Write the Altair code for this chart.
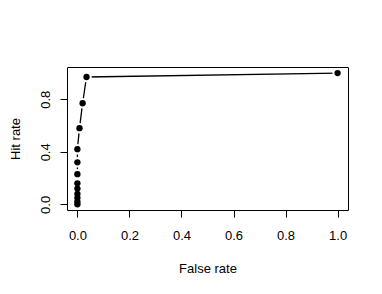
import altair as alt
import pandas as pd

false_rate = [0, 0, 0, 0, 0, 0, 0, 0, 0, 0.008, 0.02, 0.035, 1.0]
hit_rate = [0, 0.02, 0.05, 0.08, 0.12, 0.16, 0.23, 0.32, 0.42, 0.58, 0.77, 0.97, 1.0]

df = pd.DataFrame({"fr": false_rate, "hr": hit_rate, "i": list(range(len(false_rate)))})

FONT = "Liberation Sans"
xs = alt.Scale(domain=[-0.04, 1.04], nice=False, zero=False)
ys = alt.Scale(domain=[-0.043, 1.046], nice=False, zero=False)

xaxis = alt.Axis(values=[0, 0.2, 0.4, 0.6, 0.8, 1.0], format=".1f", domain=False, grid=False,
                 tickSize=7, tickColor="black", labelColor="black", labelFont=FONT, labelFontSize=13,
                 labelPadding=12, title="False rate", titleFont=FONT, titleFontSize=13,
                 titleFontWeight="normal", titleColor="black", titlePadding=20)
yaxis = alt.Axis(values=[0, 0.2, 0.4, 0.6, 0.8, 1.0], format=".1f", domain=False, grid=False,
                 labelExpr="(datum.value == 0 || abs(datum.value-0.4)<0.01 || abs(datum.value-0.8)<0.01) ? format(datum.value, '.1f') : ''",
                 tickSize=7, tickColor="black", labelColor="black", labelFont=FONT, labelFontSize=13,
                 labelAngle=270, labelAlign="center", labelBaseline="bottom", labelPadding=8,
                 title="Hit rate", titleFont=FONT, titleFontSize=13, titleFontWeight="normal",
                 titleColor="black", titlePadding=17)

base = alt.Chart(df)
line = base.mark_line(color="black", strokeWidth=1.3).encode(
    x=alt.X("fr:Q", scale=xs, axis=xaxis),
    y=alt.Y("hr:Q", scale=ys, axis=yaxis),
    order="i:Q",
)
halo = base.mark_circle(color="white", opacity=1, size=110).encode(
    x=alt.X("fr:Q", scale=xs), y=alt.Y("hr:Q", scale=ys))
pts = base.mark_circle(color="black", opacity=1, size=40).encode(
    x=alt.X("fr:Q", scale=xs), y=alt.Y("hr:Q", scale=ys))

chart = alt.layer(line, halo, pts).properties(
    width=281, height=143,
    autosize=alt.AutoSizeParams(type="none"),
    padding={"left": 59, "top": 59, "right": 26, "bottom": 76},
    background="white",
).configure_view(stroke="black", strokeWidth=1)

chart.save("out.html", embed_options={"renderer": "svg", "actions": False})
